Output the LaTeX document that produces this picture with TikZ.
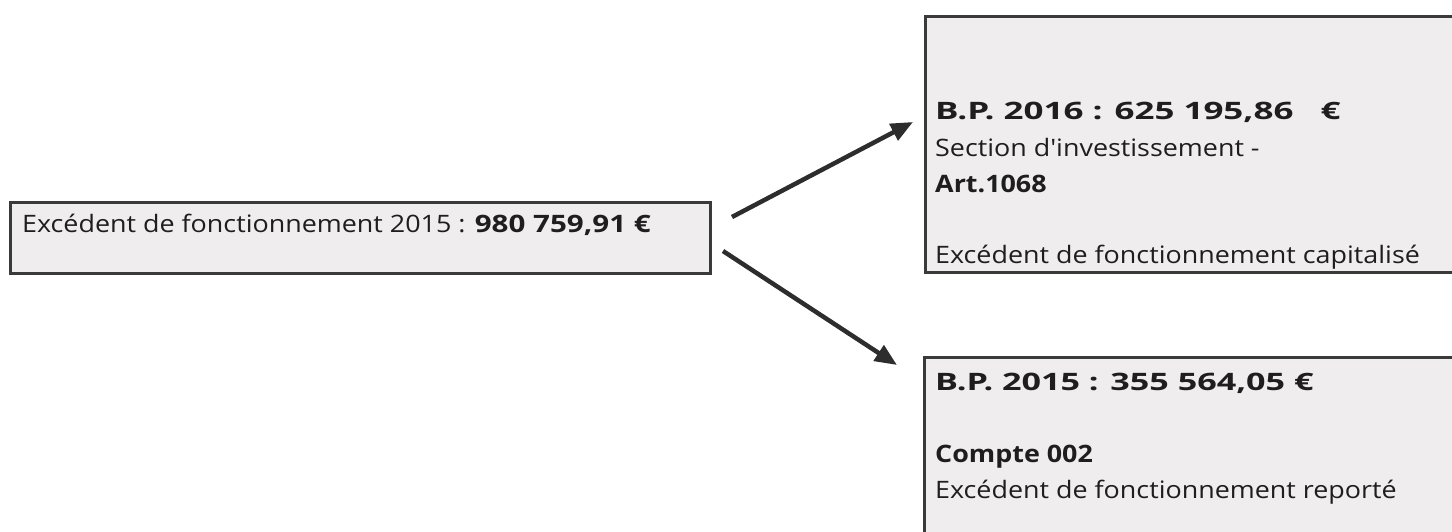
\documentclass[tikz,border=0pt]{standalone}
\usepackage{fontspec}
\setmainfont{Open Sans}[FakeStretch=1.12, Ligatures=TeXOff]
\usetikzlibrary{arrows.meta}
\definecolor{boxfill}{RGB}{239,237,237}
\definecolor{edge}{RGB}{58,58,58}
\definecolor{ink}{RGB}{30,30,30}
\definecolor{arrowc}{RGB}{45,45,45}
\newcommand{\widebold}[2]{\scalebox{#1}[1]{\textbf{#2}}}
\tikzset{
  box/.style={draw=edge, line width=3pt, fill=boxfill, rectangle, inner sep=0pt},
  txt/.style={anchor=base west, inner sep=0pt, text=ink, font=\fontsize{24}{28}\selectfont},
  arr/.style={draw=arrowc, line width=4.5pt, -{Triangle[length=22pt,width=18pt]}}
}
\begin{document}
\begin{tikzpicture}[x=1pt,y=-1pt]
\useasboundingbox (0,0) rectangle (1452,531);
% boxes
\node[box, minimum width=700pt, minimum height=71pt] (src) at (360,237.5) {};
\node[box, minimum width=535pt, minimum height=256pt] (inv) at (1192.5,144) {};
\node[box, minimum width=536pt, minimum height=183pt] (rep) at (1192,448.5) {};
% texts
\node[txt] (srct) at (22,232) {Excédent de fonctionnement 2015 : \widebold{1.1}{980 759,91 €}};
\node[txt] (inv1) at (935,119) {\widebold{1.3}{B.P. 2016 : 625 195,86 \ \ €}};
\node[txt] (inv2) at (935,156) {Section d'investissement -};
\node[txt] (inv3) at (935,192) {\textbf{Art.1068}};
\node[txt] (inv4) at (935,263) {Excédent de fonctionnement capitalisé};
\node[txt] (rep1) at (935,390) {\widebold{1.27}{B.P. 2015 : 355 564,05 €}};
\node[txt] (rep2) at (935,462) {\textbf{Compte 002}};
\node[txt] (rep3) at (935,498) {Excédent de fonctionnement reporté};
% arrows
\coordinate (a1s) at (732,217);
\coordinate (a1e) at (913,122);
\coordinate (a2s) at (723,251);
\coordinate (a2e) at (897,365);
\draw[arr] (a1s) -- (a1e);
\draw[arr] (a2s) -- (a2e);
\end{tikzpicture}
\end{document}
